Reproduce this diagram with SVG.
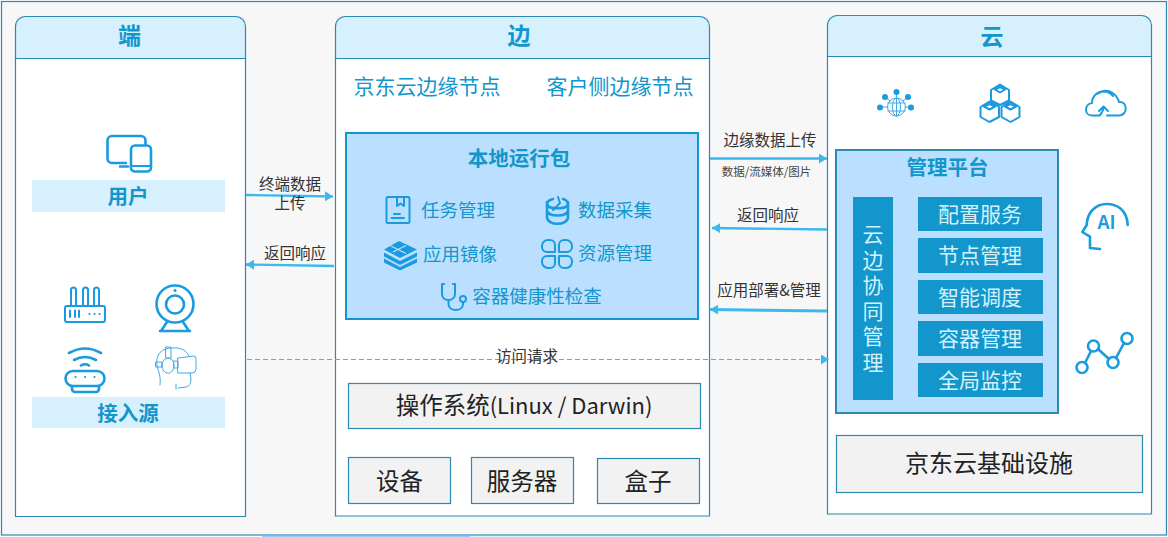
<svg xmlns="http://www.w3.org/2000/svg" width="1168" height="537" viewBox="0 0 1168 537">
<defs>
<marker id="ah" markerUnits="userSpaceOnUse" markerWidth="9" markerHeight="10" refX="8" refY="5" orient="auto"><path d="M0 0L8 5L0 10Z" fill="#3bb8ee"/></marker>
<path id="petal" d="M-2 -2V-9a5 5 0 0 0-5-5H-9a6 6 0 0 0-6 6V-7a5 5 0 0 0 5 5Z"/>
</defs>
<style>
text{font-family:"Noto Sans CJK SC","Liberation Sans",sans-serif;text-anchor:middle}
.panel{fill:#fff;stroke:#2b8ab3;stroke-width:1.2}
.hdr{fill:#d6f0fd;stroke:#2b8ab3;stroke-width:1.2}
.ht{font-size:23px;font-weight:700;fill:#1296cc}
.band{fill:#d6f0fd}
.bt{font-size:20.500px;font-weight:700;fill:#1296cc}
.sub{font-size:21px;fill:#1296cc}
.blue{fill:#bbe0ff;stroke-width:2}
.it{font-size:18.500px;fill:#1296cc}
.gray{fill:#f2f2f2;stroke:#2b8ab3;stroke-width:1.2}
.gt{font-size:23.500px;fill:#222}
.svc{fill:#1296cc}
.st{font-size:21px;fill:#d2f1fb}
.vt{writing-mode:vertical-rl;text-anchor:start;letter-spacing:4.500px}
.lbl{font-size:15.500px;fill:#333}
.small{font-size:11.500px;fill:#444}
.c{fill:none;stroke:#3bb8ee;stroke-width:2.400;marker-end:url(#ah)}
.d{fill:none;stroke:#3bb8ee;stroke-width:1;stroke-dasharray:5 3;marker-end:url(#ah)}
.i{fill:none;stroke:#1a9be0;stroke-width:2;stroke-linecap:round;stroke-linejoin:round}
.i3{fill:none;stroke:#1a9be0;stroke-width:2.600;stroke-linecap:round;stroke-linejoin:round}
.t{fill:none;stroke:#3fa9e6;stroke-width:1;stroke-linecap:round;stroke-linejoin:round}
.f{fill:#1a9be0}
</style>
<rect id="frame" x="1.500" y="1.500" width="1165" height="533.500" fill="#f7f7f7" stroke="#2b8ab3" stroke-width="1.200"/>
<rect x="262" y="536" width="208" height="1" fill="#9cc8f5"/>
<rect x="470" y="536" width="250" height="1" fill="#d6f3fb"/>

<g id="panel-duan">
<path class="panel" d="M15.500 58.500H245.500V516.500H15.500Z"/>
<path class="hdr" d="M15.500 58.500V26.500a10 10 0 0 1 10-10H235.500a10 10 0 0 1 10 10V58.500Z"/>
<text class="ht" x="129.500" y="44">端</text>
</g>
<g id="node-user">
<path class="i3" d="M126 163H112a4.500 4.500 0 0 1-4.500-4.500V140.500a4.500 4.500 0 0 1 4.500-4.500H141a4.500 4.500 0 0 1 4.500 4.500V144M120 166.500H128"/>
<rect class="i3" x="131" y="145.500" width="20" height="26" rx="4"/>
<path class="i" d="M132 166H150" stroke-width="1.500"/>
<rect class="band" x="32" y="180" width="193" height="32"/>
<text class="bt" x="128" y="204">用户</text>
</g>
<g id="node-source">
<g id="icon-router">
<rect class="i" x="65" y="306" width="40" height="16" rx="2"/>
<path class="i" d="M71 305V290a2.500 2.500 0 0 1 5 0V305M83 305V290a2.500 2.500 0 0 1 5 0V305M94 305V290a2.500 2.500 0 0 1 5 0V305M70 310.500V317M75 310.500V317M79 310.500V317M89.500 314h.1M94.500 314h.1M99.500 314h.1"/>
</g>
<g id="icon-camera">
<circle class="i3" cx="175" cy="304" r="18.500"/>
<circle class="i3" cx="175" cy="304.500" r="9"/>
<circle class="f" cx="175" cy="290.500" r="1.500"/>
<path class="i3" d="M167 322L161 331M183 322L189 331M160 331H190"/>
</g>
<g id="icon-wifi">
<rect class="i3" x="65.500" y="371" width="39" height="15" rx="7.500"/>
<path class="i3" d="M72 386.500V389a3 3 0 0 0 3 3H96a3 3 0 0 0 3-3V386.500M69 353Q85 344 101 353M74 360Q85 354 96 360M81 365.500Q85 363 89 365.500"/>
<path class="i" d="M75.500 377h.1M85 377h.1M94.500 377h.1"/>
</g>
<g id="icon-vr">
<path class="t" d="M160 385C161 378 159 372 157 366C155 354 162 348 172 348C181 347 187 351 189 356M166 347H171V358H166ZM162 365C162 356 174 356 174 365C174 376 162 376 162 365ZM156 362H162V367H156ZM174 361H178V368H174ZM178 358L194 356Q196 356 196 359V369Q196 373 192 373H178ZM190 373L191 379Q191 386 186 387L178 388M176 384V389"/>
</g>
<rect class="band" x="32" y="397" width="193" height="31"/>
<text class="bt" x="128" y="421">接入源</text>
</g>

<g id="panel-bian">
<path class="panel" d="M335.500 58.500H709.500V516H335.500Z"/>
<path class="hdr" d="M335.500 58.500V26.500a10 10 0 0 1 10-10H699.500a10 10 0 0 1 10 10V58.500Z"/>
<text class="ht" x="519" y="44">边</text>
<text class="sub" x="427" y="94">京东云边缘节点</text>
<text class="sub" x="620" y="94">客户侧边缘节点</text>
</g>
<g id="node-package">
<rect class="blue" x="346" y="133" width="352" height="186" stroke="#1296cc"/>
<text class="bt" x="519" y="166">本地运行包</text>
<g id="item-task">
<rect class="i" x="386.500" y="197" width="23" height="26" rx="1.500" stroke-width="1.600"/>
<path class="i" d="M397 197.500V206L400.500 203.500L404 206V197.500M394 214H400M391.500 218H404" stroke-width="1.600"/>
<text class="it" x="458" y="217">任务管理</text>
</g>
<g id="item-data">
<path class="i3" d="M547 202V217C547 226 568 226 568 217V202M547 211C549 217 566 217 568 211M553 199C548 200 546 203 548 206C551 209 564 209 567 206C569 203 567 200 563 199"/>
<path class="i" d="M558 197L560 203L553 210" stroke-width="1.500"/>
<text class="it" x="615" y="217">数据采集</text>
</g>
<g id="item-image">
<path class="f" d="M399 241L417 249.500L400 258L384 249.500Z"/>
<path class="f" d="M384 252.500L400 261L417 252.500V256.500L400 265L384 256.500ZM384 258.500L400 267L417 258.500V262.500L400 270.500L384 262.500Z"/>
<path d="M391 246L406 253.500M393 252L406 245.500" fill="none" stroke="#bbe0ff" stroke-width="1.300"/>
<text class="it" x="460" y="261">应用镜像</text>
</g>
<g id="item-resource" class="i">
<use href="#petal" transform="translate(557 254)"/>
<use href="#petal" transform="translate(557 254) scale(-1 1)"/>
<use href="#petal" transform="translate(557 254) scale(1 -1)"/>
<use href="#petal" transform="translate(557 254) scale(-1 -1)"/>
<text class="it" x="615" y="260" style="stroke:none">资源管理</text>
</g>
<g id="item-health">
<path class="i" d="M444 284H442V294C442 302 455 302 455 294V284H453M448.500 300V304C448.500 312 463 312 463 304V302"/>
<circle class="i" cx="463" cy="299" r="3"/>
<text class="it" x="537" y="303">容器健康性检查</text>
</g>
</g>
<g id="node-os"><rect class="gray" x="348.500" y="383.500" width="352" height="45"/><text class="gt" x="524" y="414">操作系统<tspan font-size="22">(Linux / Darwin)</tspan></text></g>
<g id="node-device"><rect class="gray" x="348.500" y="457.500" width="102" height="46"/><text class="gt" x="399.500" y="489.500">设备</text></g>
<g id="node-server"><rect class="gray" x="471.500" y="457.500" width="102" height="46"/><text class="gt" x="522" y="489.500">服务器</text></g>
<g id="node-box"><rect class="gray" x="597.500" y="458.500" width="102" height="45"/><text class="gt" x="648" y="489.500">盒子</text></g>

<g id="panel-yun">
<path class="panel" d="M827.500 56.500H1151.500V514H827.500Z"/>
<path class="hdr" d="M827.500 56.500V25.500a10 10 0 0 1 10-10H1141.500a10 10 0 0 1 10 10V56.500Z"/>
<text class="ht" x="992" y="45">云</text>
</g>
<g id="icon-globe">
<circle class="t" cx="896.500" cy="107" r="9"/>
<ellipse class="t" cx="896.500" cy="107" rx="4" ry="9"/>
<path class="t" d="M896.500 98V116M888 103H905M888 111H905M896.500 92V98M885 97L890 101M908 97L903 101M880 107H887M906 107H911"/>
<g class="f"><circle cx="896.500" cy="92" r="3"/><circle cx="885" cy="97" r="3"/><circle cx="908" cy="97" r="3"/><circle cx="880" cy="107.500" r="3"/><circle cx="911" cy="107.500" r="3"/></g>
</g>
<g id="icon-cubes">
<path class="i" stroke-width="1.300" d="M1000 84.500L1009 90V100.500L1000 105L991 100.500V90ZM1000 92.500L995 89.500L1000 87L1005 89.500ZM989.500 101.500L999 107V117L989.500 122L980.500 117V107ZM989.500 109.500L984 106.500L989.500 104L995 106.500ZM1010.500 101.500L1019.500 107V117L1010.500 122L1001.500 117V107ZM1010.500 109.500L1005 106.500L1010.500 104L1016 106.500Z"/>
</g>
<g id="icon-cloud">
<path class="i" stroke-width="1.500" d="M1100 115.500H1092C1084 115.500 1084 104 1092 103C1092 89 1114 85 1119 102C1128 101 1128 115.500 1119 115.500H1107M1099 111L1103.500 106.500L1108 111M1103.500 107Q1103 112 1100 115M1097 94Q1106 88 1113 96"/>
</g>
<g id="icon-ai">
<path class="i3" d="M1127.700 225C1127 209 1116 204 1106.700 204C1095 204 1087 213 1086.700 225L1082.300 232L1090 236.700V248L1100 249"/>
<text x="1106" y="228.500" font-size="20" font-weight="700" textLength="18" lengthAdjust="spacingAndGlyphs" style="fill:#1a9be0;font-family:'Liberation Sans',sans-serif">AI</text>
</g>
<g id="icon-chart">
<path class="i3" d="M1085 363L1091 351M1098 349L1109 359M1116 358L1124 343"/>
<circle class="i3" cx="1082" cy="367.500" r="5.500"/><circle class="i3" cx="1093.500" cy="346" r="5.500"/><circle class="i3" cx="1113" cy="362.500" r="5.500"/><circle class="i3" cx="1127" cy="338.500" r="5.500"/>
</g>
<g id="node-platform">
<rect class="blue" x="836" y="150" width="222" height="263" stroke="#2b8ab3"/>
<text class="bt" x="947.500" y="175">管理平台</text>
<rect class="svc" x="853" y="197" width="40" height="203"/>
<text class="st vt" x="873" y="224">云边协同管理</text>
<g id="svc-config"><rect class="svc" x="918" y="197" width="124" height="34"/><text class="st" x="980" y="222">配置服务</text></g>
<g id="svc-node"><rect class="svc" x="918" y="238" width="125" height="35"/><text class="st" x="980" y="263">节点管理</text></g>
<g id="svc-sched"><rect class="svc" x="918" y="280" width="125" height="34"/><text class="st" x="980" y="305">智能调度</text></g>
<g id="svc-container"><rect class="svc" x="918" y="321" width="125" height="35"/><text class="st" x="980" y="346">容器管理</text></g>
<g id="svc-monitor"><rect class="svc" x="918" y="363" width="125" height="34"/><text class="st" x="980" y="388">全局监控</text></g>
</g>
<g id="node-infra"><rect class="gray" x="836.500" y="435.500" width="306" height="57"/><text class="gt" x="989" y="472" style="font-size:24px">京东云基础设施</text></g>

<g id="connectors">
<path class="c" d="M246 195L333 196.500"/>
<path class="c" d="M334 266L246 264.500"/>
<path class="c" d="M710 158.500H827"/>
<path class="c" d="M827 229.500L712 228"/>
<path class="c" d="M827 311L710 309.500" style="stroke-width:3"/>
<path class="d" d="M247 359.500H829"/>
</g>
<g id="labels">
<text class="lbl"><tspan x="290" y="190">终端数据</tspan><tspan x="290" y="209">上传</tspan></text>
<text class="lbl" x="295" y="259">返回响应</text>
<text class="lbl" x="770" y="146">边缘数据上传</text>
<text class="small" x="766.500" y="176">数据/流媒体/图片</text>
<text class="lbl" x="768" y="221">返回响应</text>
<text class="lbl" x="769" y="296">应用部署&amp;管理</text>
<text class="lbl" x="527" y="362">访问请求</text>
</g>
</svg>
